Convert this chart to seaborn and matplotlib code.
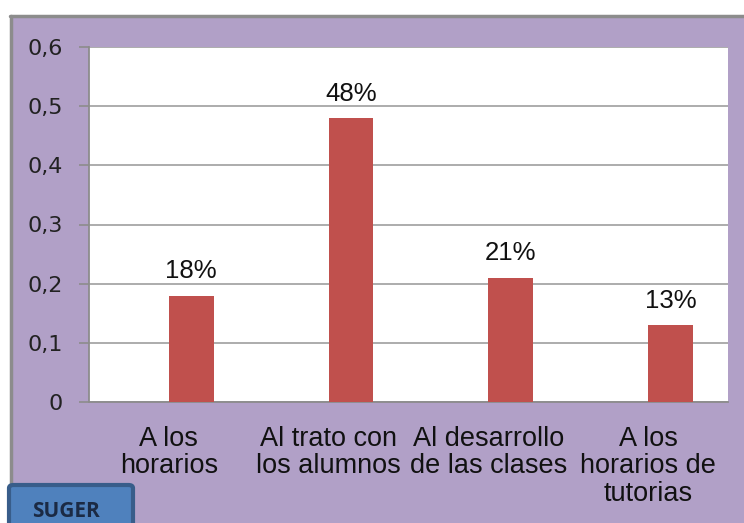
# Encuesta: aspectos a mejorar (barras con porcentaje)
import numpy as np
import pandas as pd
import seaborn as sns
import matplotlib.pyplot as plt
from matplotlib.patches import Rectangle, FancyBboxPatch
from matplotlib.lines import Line2D

categorias = ["A los\nhorarios", "Al trato con\nlos alumnos",
              "Al desarrollo\nde las clases", "A los\nhorarios de\ntutorias"]
valores = [0.18, 0.48, 0.21, 0.13]
etiquetas = ["18%", "48%", "21%", "13%"]
yticks = [0, 0.1, 0.2, 0.3, 0.4, 0.5, 0.6]
ytick_labels = ["0", "0,1", "0,2", "0,3", "0,4", "0,5", "0,6"]

# serie vacia para que las barras queden corridas a la derecha (como en Excel)
df = pd.DataFrame({
    "categoria": categorias * 2,
    "valor": [np.nan] * 4 + valores,
    "serie": ["vacia"] * 4 + ["valor"] * 4,
})

sns.set_style("white")
plt.rcParams['font.family'] = ['Liberation Sans', 'DejaVu Sans']

W, H = 744, 523
fig = plt.figure(figsize=(W / 100, H / 100), dpi=100, facecolor="white")

# fondo morado del grafico
fig.patches.append(Rectangle((10 / W, 0), 1, (H - 15) / H, transform=fig.transFigure,
                             facecolor="#B1A0C7", edgecolor="none", zorder=-2))
fig.lines.append(Line2D([10 / W, 1], [(H - 16) / H] * 2, transform=fig.transFigure,
                        color="#8C8C8C", lw=2.5, zorder=-1))
fig.lines.append(Line2D([11 / W] * 2, [0, (H - 16) / H], transform=fig.transFigure,
                        color="#8C8C8C", lw=2.5, zorder=-1))

ax = fig.add_axes([89 / W, (H - 402) / H, (728 - 89) / W, (402 - 47) / H])
ax.set_facecolor("white")

sns.barplot(data=df, x="categoria", y="valor", hue="serie", hue_order=["vacia", "valor"],
            palette={"vacia": "#C0504D", "valor": "#C0504D"}, width=0.56,
            legend=False, ax=ax, zorder=3, saturation=1, linewidth=0)

for cont in ax.containers:
    if not np.all(np.isnan(cont.datavalues)):
        ax.bar_label(cont, labels=etiquetas, padding=9, fontsize=18.5, color="#111111")

ax.set_ylim(0, 0.6)
ax.set_xlim(-0.5, 3.5)
ax.set_yticks(yticks)
ax.set_yticklabels(ytick_labels, family="DejaVu Sans", fontsize=16, color="#222222")
ax.yaxis.grid(True, color="#A6A6A6", lw=1.3, zorder=0)
ax.set_axisbelow(True)

ax.set_xticks(range(4))
ax.set_xticklabels(categorias, fontsize=19.5, color="#111111", linespacing=1.08)
ax.set_xticks([-0.5, 0.5, 1.5, 2.5, 3.5], minor=True)
ax.tick_params(axis="x", which="major", length=0, pad=17)
ax.tick_params(axis="x", which="minor", length=5, width=1.2, color="#8C8C8C", direction="out")
ax.tick_params(axis="y", length=7, width=1.2, color="#8C8C8C", direction="out", pad=12, left=True)
ax.set_xlabel("")
ax.set_ylabel("")

for s in ["top", "right"]:
    ax.spines[s].set_visible(False)
for s in ["left", "bottom"]:
    ax.spines[s].set_color("#8C8C8C")
    ax.spines[s].set_linewidth(1.3)

# recuadro azul "SUGER"
fig.patches.append(FancyBboxPatch((9 / W, -0.05), 124 / W, (H - 485) / H + 0.05,
                                  boxstyle="round,pad=0,rounding_size=0.006",
                                  transform=fig.transFigure, facecolor="#4F81BD",
                                  edgecolor="#385D8A", lw=3, zorder=5))
fig.text(32 / W, 1 / H, "SUGER", fontsize=15, fontweight="bold", color="#1B2A44",
         family=["Open Sans", "DejaVu Sans"], va="bottom", zorder=6)

plt.savefig("out.png", dpi=100)
